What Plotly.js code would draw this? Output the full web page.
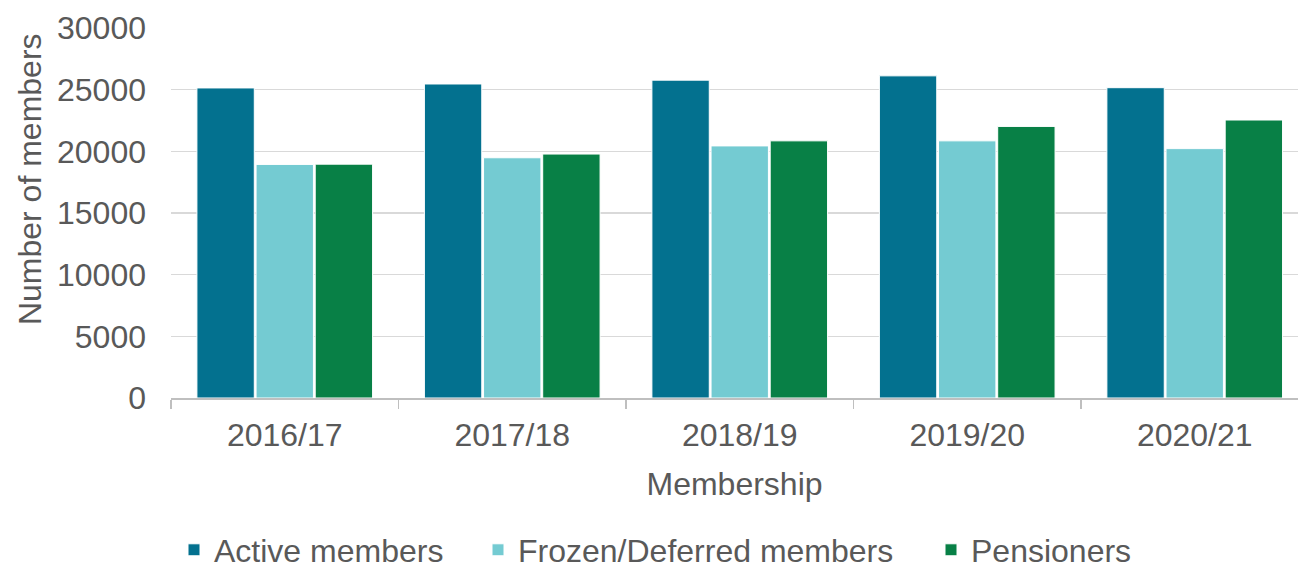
<!DOCTYPE html>
<html>
<head>
<meta charset="utf-8">
<script src="https://cdn.plot.ly/plotly-3.0.1.min.js"></script>
<style>html,body{margin:0;padding:0;background:#fff;}#chart{width:1298px;height:567px;}</style>
</head>
<body>
<div id="chart"></div>
<script>
const categories = ["2016/17", "2017/18", "2018/19", "2019/20", "2020/21"];
const seriesNames = ["Active members", "Frozen/Deferred members", "Pensioners"];
const activeMembers = [25140, 25460, 25770, 26120, 25160];
const frozenDeferred = [18940, 19480, 20440, 20850, 20220];
const pensioners = [18960, 19780, 20850, 22020, 22540];
const yTicks = [0, 5000, 10000, 15000, 20000, 25000, 30000];

const colors = ["#03718f", "#74cbd2", "#088046"];
const font = {family: "Liberation Sans, Arial, sans-serif", size: 32, color: "#595959"};

const legendIds = ["legend", "legend2", "legend3"];
const legendX = [174, 478, 931];

const values = [activeMembers, frozenDeferred, pensioners];
const traces = values.map((v, i) => ({
  type: "bar",
  name: seriesNames[i],
  legend: legendIds[i],
  x: categories,
  y: v,
  marker: {color: colors[i], line: {color: "#ffffff", width: 1}},
  hoverinfo: "skip"
}));

const layout = {
  width: 1298, height: 567,
  margin: {l: 171, r: 0, t: 28, b: 169, autoexpand: false},
  paper_bgcolor: "#ffffff", plot_bgcolor: "#ffffff",
  font: font,
  barmode: "group",
  bargap: 0.22,
  bargroupgap: 0.03,
  showlegend: true,
  xaxis: {
    type: "category",
    range: [-0.5, 4.454],
    automargin: false,
    showline: true, linecolor: "#bfbfbf", linewidth: 1.5,
    ticks: "outside", tickson: "boundaries", ticklen: 9, tickcolor: "#bfbfbf", tickwidth: 1.5,
    ticklabelstandoff: 8,
    tickfont: font,
    showgrid: false,
    title: {text: "Membership", font: font, standoff: 20}
  },
  yaxis: {
    range: [0, 30000],
    automargin: false,
    tickvals: yTicks,
    ticktext: yTicks.map(String),
    showgrid: true, gridcolor: "#d9d9d9", gridwidth: 1.5,
    zeroline: false, showline: false, ticks: "",
    ticklabelstandoff: 24,
    tickfont: font
  },
  annotations: [{
    text: "Number of members", textangle: -90, showarrow: false,
    xref: "paper", yref: "paper", x: -0.125, y: 0.592,
    xanchor: "center", yanchor: "middle", font: font
  }]
};

legendIds.forEach((id, i) => {
  layout[id] = {
    orientation: "h", xref: "container", yref: "container",
    x: legendX[i] / 1298, xanchor: "left", y: 0.03, yanchor: "middle",
    font: font, itemwidth: 30, itemclick: false, bgcolor: "rgba(0,0,0,0)"
  };
});

Plotly.newPlot("chart", traces, layout, {staticPlot: true, displayModeBar: false});
</script>
</body>
</html>
